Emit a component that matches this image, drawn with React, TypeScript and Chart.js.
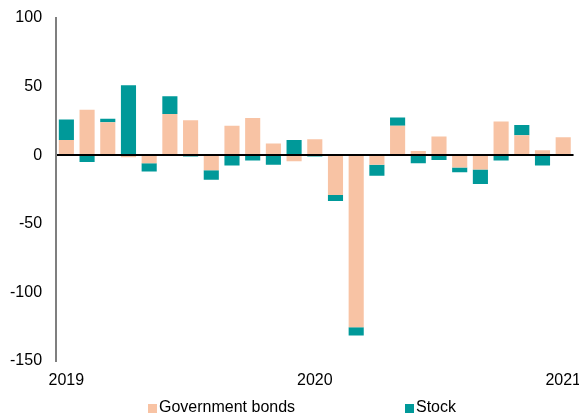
import React, { useEffect, useRef } from "react";
import { Chart, registerables } from "chart.js";

Chart.register(...registerables);

const categories = [
  "Jan 2019", "Feb 2019", "Mar 2019", "Apr 2019", "May 2019", "Jun 2019",
  "Jul 2019", "Aug 2019", "Sep 2019", "Oct 2019", "Nov 2019", "Dec 2019",
  "Jan 2020", "Feb 2020", "Mar 2020", "Apr 2020", "May 2020", "Jun 2020",
  "Jul 2020", "Aug 2020", "Sep 2020", "Oct 2020", "Nov 2020", "Dec 2020",
  "Jan 2021",
];

const governmentBonds = [
  11, 33, 24, -1.5, -6, 30, 25.5, -11, 21.5, 27, 8.5, -4.5,
  11.5, -29, -125.5, -7, 21.5, 3, 13.5, -9, -10.5, 24.5, 14.5, 3.5,
  13,
];

const stock = [
  15, -5, 2.5, 51, -6, 13, -1, -7, -7.5, -4, -7, 11,
  -1, -4.5, -6, -8, 6, -6, -3.5, -3.5, -10.5, -4, 7.5, -7.5,
  0,
];

const seriesNames = ["Government bonds", "Stock"];
const seriesColors = ["#F8C3A4", "#009999"];

const yTicks = { min: -150, max: 100, step: 50 };

const FONT = "'Liberation Sans', Arial, sans-serif";

// canvas is slightly larger than the page and offset, so the plot area lands where the reference has it
const CANVAS_W = 595;
const CANVAS_H = 420;
const OFFSET_X = 4;
const OFFSET_Y = 6;

export default function App() {
  const canvasRef = useRef<HTMLCanvasElement | null>(null);

  useEffect(() => {
    document.body.style.margin = "0";
    document.body.style.overflow = "hidden";
    const canvas = canvasRef.current;
    if (!canvas) return;
    const chart = new Chart(canvas, {
      type: "bar",
      data: {
        labels: categories,
        datasets: [
          {
            label: seriesNames[0],
            data: governmentBonds,
            backgroundColor: seriesColors[0],
            barPercentage: 0.73,
            categoryPercentage: 1,
          },
          {
            label: seriesNames[1],
            data: stock,
            backgroundColor: seriesColors[1],
            barPercentage: 0.73,
            categoryPercentage: 1,
          },
        ],
      },
      options: {
        responsive: false,
        animation: false,
        layout: { padding: { left: 0, top: 24, right: 0, bottom: 14 } },
        plugins: {
          legend: { display: false },
          tooltip: { enabled: false },
        },
        scales: {
          x: {
            stacked: true,
            grid: { display: false, drawTicks: false },
            border: { display: false },
            ticks: {
              autoSkip: false,
              maxRotation: 0,
              padding: 10,
              color: "#000",
              font: { family: FONT, size: 16 },
              callback: (_v: any, i: number) => {
                const c = categories[i];
                return c.startsWith("Jan") ? c.slice(4) : "";
              },
            },
          },
          y: {
            stacked: true,
            min: yTicks.min,
            max: yTicks.max,
            grid: {
              drawTicks: false,
              lineWidth: 2,
              color: (ctx: any) =>
                ctx.tick && ctx.tick.value === 0 ? "#000" : "rgba(0,0,0,0)",
            },
            border: { display: true, color: "#7f7f7f", width: 2 },
            ticks: {
              stepSize: yTicks.step,
              padding: 14,
              color: "#000",
              font: { family: FONT, size: 16 },
            },
          },
        },
      },
    });
    return () => chart.destroy();
  }, []);

  const legendItems = [
    { name: seriesNames[0], color: seriesColors[0], left: 148 },
    { name: seriesNames[1], color: seriesColors[1], left: 405 },
  ];

  return (
    <div style={{ position: "relative", width: 579, height: 414, overflow: "hidden" }}>
      <canvas
        ref={canvasRef}
        width={CANVAS_W}
        height={CANVAS_H}
        style={{ display: "block", position: "absolute", left: -OFFSET_X, top: -OFFSET_Y }}
      />
      {legendItems.map((it) => (
        <div
          key={it.name}
          style={{
            position: "absolute",
            left: it.left,
            top: 399,
            display: "flex",
            alignItems: "center",
            fontFamily: FONT,
            fontSize: 16,
            lineHeight: "16px",
            color: "#000",
            whiteSpace: "nowrap",
          }}
        >
          <span
            style={{
              display: "inline-block",
              width: 9,
              height: 9,
              background: it.color,
              marginRight: 2,
              marginTop: 2,
            }}
          />
          <span>{it.name}</span>
        </div>
      ))}
    </div>
  );
}
